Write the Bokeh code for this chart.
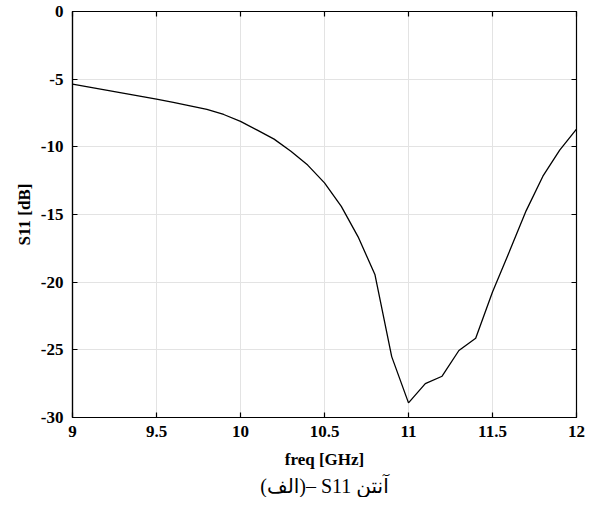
from bokeh.plotting import figure
from bokeh.models import LinearAxis, Range1d, Title, FixedTicker
from bokeh.embed import file_html
from bokeh.resources import INLINE

freq = [9.0, 9.1, 9.2, 9.3, 9.4, 9.5, 9.6, 9.7, 9.8, 9.9, 10.0, 10.1, 10.2, 10.3, 10.4, 10.5,
        10.6, 10.7, 10.8, 10.9, 11.0, 11.1, 11.2, 11.3, 11.4, 11.5, 11.6, 11.7, 11.8, 11.9, 12.0]
s11 = [-5.37, -5.59, -5.81, -6.03, -6.25, -6.48, -6.72, -6.97, -7.24, -7.61, -8.12, -8.77,
       -9.43, -10.32, -11.35, -12.66, -14.4, -16.65, -19.43, -25.5, -28.92, -27.5, -26.95,
       -25.05, -24.15, -20.72, -17.76, -14.73, -12.17, -10.24, -8.69]
x_ticks = [9, 9.5, 10, 10.5, 11, 11.5, 12]
x_labels = ["9", "9.5", "10", "10.5", "11", "11.5", "12"]
y_ticks = [-30, -25, -20, -15, -10, -5, 0]
y_labels = ["-30", "-25", "-20", "-15", "-10", "-5", "0"]
caption = "\u202a(الف)– S11 آنتن\u202c"

FONT = "Liberation Serif"

p = figure(width=594, height=513, output_backend="svg", toolbar_location=None,
           x_range=Range1d(9, 12), y_range=Range1d(-30, 0),
           frame_width=504, frame_height=406,
           min_border_left=72, min_border_right=17, min_border_top=11, min_border_bottom=10,
           x_axis_label="freq [GHz]", y_axis_label="S11 [dB]")
p.background_fill_color = "white"
p.border_fill_color = "white"
p.outline_line_color = "black"
p.outline_line_width = 1.2

p.line(freq, s11, line_color="black", line_width=1.3)

for ax in [p.xaxis[0], p.yaxis[0]]:
    ax.major_tick_in = 5
    ax.major_tick_out = 0
    ax.minor_tick_in = 0
    ax.minor_tick_out = 0
    ax.axis_line_color = "black"
    ax.axis_line_width = 1.2
    ax.major_tick_line_color = "black"
    ax.major_tick_line_width = 1.2
    ax.major_label_text_font = FONT
    ax.major_label_text_font_style = "bold"
    ax.major_label_text_font_size = "17px"
    ax.major_label_text_color = "black"
    ax.axis_label_text_font = FONT
    ax.axis_label_text_font_style = "bold"
    ax.axis_label_text_font_size = "17px"
    ax.axis_label_text_color = "black"

p.xaxis[0].ticker = FixedTicker(ticks=x_ticks)
p.xaxis[0].major_label_overrides = {t: l for t, l in zip(x_ticks, x_labels)}
p.xaxis[0].major_label_standoff = 8
p.xaxis[0].axis_label_standoff = 10
p.yaxis[0].ticker = FixedTicker(ticks=y_ticks)
p.yaxis[0].major_label_overrides = {t: l for t, l in zip(y_ticks, y_labels)}
p.yaxis[0].major_label_standoff = 9
p.yaxis[0].axis_label_standoff = 4

# mirrored axes (box with inner ticks), no labels
top = LinearAxis(ticker=FixedTicker(ticks=x_ticks),
                 major_label_overrides={t: "" for t in x_ticks},
                 major_tick_in=5, major_tick_out=0, minor_tick_in=0, minor_tick_out=0,
                 major_label_standoff=0,
                 axis_line_color="black", major_tick_line_color="black", major_tick_line_width=1.2)
right = LinearAxis(ticker=FixedTicker(ticks=y_ticks),
                   major_label_overrides={t: "" for t in y_ticks},
                   major_tick_in=5, major_tick_out=0, minor_tick_in=0, minor_tick_out=0,
                   major_label_standoff=0,
                   axis_line_color="black", major_tick_line_color="black", major_tick_line_width=1.2)
p.add_layout(top, "above")
p.add_layout(right, "right")

p.xgrid.ticker = FixedTicker(ticks=x_ticks)
p.ygrid.ticker = FixedTicker(ticks=y_ticks)
p.grid.grid_line_color = "#e3e3e3"
p.grid.grid_line_width = 1

cap = Title(text=caption, align="center", text_font="Liberation Serif, DejaVu Sans",
            text_font_style="normal", text_font_size="20px", text_color="black",
            standoff=2)
p.add_layout(cap, "below")

open("out.html", "w").write(file_html(p, INLINE))
